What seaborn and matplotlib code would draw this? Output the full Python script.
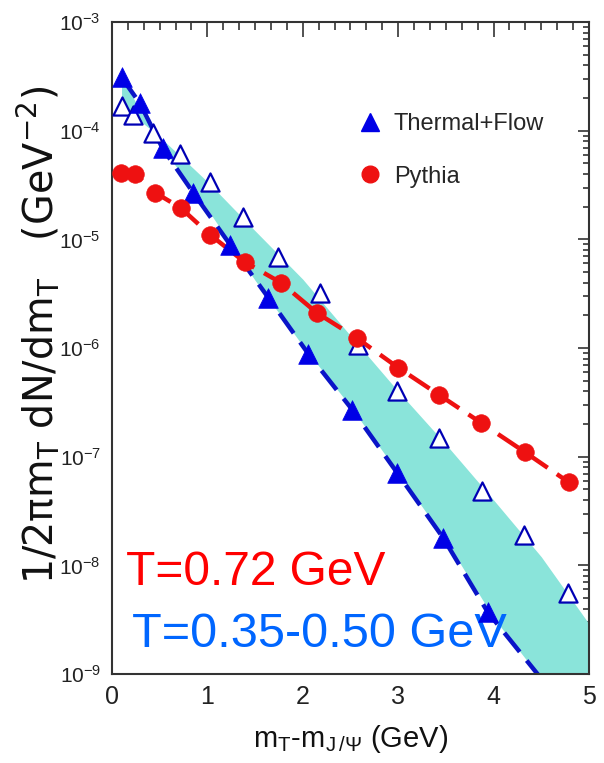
import numpy as np
import matplotlib
matplotlib.use("Agg")
import matplotlib.pyplot as plt
import seaborn as sns
from matplotlib import font_manager
from matplotlib.ticker import FixedLocator, LogLocator, FuncFormatter, AutoMinorLocator, NullFormatter
from matplotlib.lines import Line2D

# ---------------- data ----------------
thermal_x = [0.10, 0.29, 0.53, 0.85, 1.24, 1.64, 2.06, 2.52, 2.99, 3.47, 3.94]
thermal_y = [3.1e-4, 1.8e-4, 6.9e-5, 2.7e-5, 8.9e-6, 2.9e-6, 8.8e-7, 2.7e-7, 7.1e-8, 1.8e-8, 3.7e-9]

thermal_line_x = [0.10, 0.29, 0.53, 0.85, 1.24, 1.64, 2.06, 2.52, 2.99, 3.47, 3.94, 4.55]
thermal_line_y = [3.1e-4, 1.8e-4, 6.9e-5, 2.7e-5, 8.9e-6, 2.9e-6, 8.8e-7, 2.7e-7, 7.1e-8, 1.8e-8, 3.7e-9, 8.0e-10]

thermal_open_x = [0.10, 0.22, 0.43, 0.71, 1.03, 1.37, 1.74, 2.18, 2.58, 2.99, 3.43, 3.88, 4.32, 4.78]
thermal_open_y = [1.7e-4, 1.4e-4, 9.5e-5, 6.1e-5, 3.4e-5, 1.6e-5, 6.9e-6, 3.2e-6, 1.07e-6, 4.0e-7,
                  1.5e-7, 4.8e-8, 1.9e-8, 5.6e-9]

pythia_x = [0.09, 0.24, 0.45, 0.72, 1.03, 1.39, 1.77, 2.15, 2.57, 3.00, 3.43, 3.87, 4.33, 4.79]
pythia_y = [4.1e-5, 4.0e-5, 2.7e-5, 1.95e-5, 1.1e-5, 6.2e-6, 4.0e-6, 2.1e-6, 1.23e-6, 6.6e-7,
            3.7e-7, 2.05e-7, 1.1e-7, 5.8e-8]

band_x = [0.10, 0.50, 1.00, 1.50, 2.00, 2.50, 3.00, 3.50, 4.00, 4.50, 5.00]
band_low = [3.1e-4, 7.5e-5, 1.9e-5, 4.2e-6, 1.05e-6, 2.9e-7, 7.1e-8, 1.7e-8, 3.3e-9, 9e-10, 5e-10]
band_high = [1.7e-4, 8.8e-5, 3.4e-5, 1.2e-5, 4.3e-6, 1.3e-6, 4.0e-7, 1.3e-7, 4.0e-8, 1.2e-8, 2.9e-9]

x_ticks = [0, 1, 2, 3, 4, 5]
x_tick_labels = ["0", "1", "2", "3", "4", "5"]
y_exponents = [-3, -4, -5, -6, -7, -8, -9]
legend_labels = ["Thermal+Flow", "Pythia"]
annot_red = "T=0.72 GeV"
annot_blue = "T=0.35-0.50 GeV"

# ---------------- style ----------------
sns.set_theme(style="white")
names = {f.name for f in font_manager.fontManager.ttflist}
NARROW = "Liberation Sans Narrow" if "Liberation Sans Narrow" in names else "Liberation Sans"
plt.rcParams["font.family"] = [NARROW, "DejaVu Sans"]

fig = plt.figure(figsize=(6.04, 7.63), dpi=100)
ax = fig.add_axes([0.1854, 0.1166, 0.7897, 0.8545])

BLUE = "#0000e6"
BLUE_LINE = "#0a14c8"
RED = "#ee1111"
CYAN = "#8ae4da"

ax.fill_between(band_x, band_low, band_high, color=CYAN, lw=0, zorder=1)

sns.lineplot(x=thermal_line_x, y=thermal_line_y, ax=ax, color=BLUE_LINE, lw=3.2,
             linestyle=(0, (5.5, 2.5)), sort=False, zorder=2, estimator=None)
sns.lineplot(x=pythia_x, y=pythia_y, ax=ax, color=RED, lw=3.2,
             linestyle=(0, (5.5, 2.5)), sort=False, zorder=2, estimator=None)

sns.scatterplot(x=thermal_open_x, y=thermal_open_y, ax=ax, marker="^", s=170,
                facecolor="white", edgecolor="#0000b4", linewidth=1.6, zorder=3)
sns.scatterplot(x=thermal_x, y=thermal_y, ax=ax, marker="^", s=200,
                color=BLUE, edgecolor=BLUE, linewidth=0.5, zorder=4)
sns.scatterplot(x=pythia_x, y=pythia_y, ax=ax, marker="o", s=160,
                color=RED, edgecolor=RED, linewidth=0.5, zorder=4)

ax.set_yscale("log")
ax.set_xlim(0, 5)
ax.set_ylim(1e-9, 1e-3)

ax.xaxis.set_major_locator(FixedLocator(x_ticks))
ax.set_xticklabels(x_tick_labels)
ax.xaxis.set_minor_locator(AutoMinorLocator(6))
ax.yaxis.set_major_locator(FixedLocator([10.0 ** e for e in y_exponents]))
ax.yaxis.set_major_formatter(FuncFormatter(
    lambda v, p: r"$\mathregular{10^{%d}}$" % int(round(np.log10(v)))))
ax.yaxis.set_minor_locator(LogLocator(base=10, subs=np.arange(2, 10), numticks=100))
ax.yaxis.set_minor_formatter(NullFormatter())

ax.tick_params(which="both", direction="in", top=True, right=True, color="#333333",
               width=1.2)
ax.tick_params(axis="x", which="major", length=11, pad=8, labelsize=18)
ax.tick_params(axis="x", which="minor", length=5.5)
ax.tick_params(axis="y", which="major", length=8, pad=8, labelsize=15)
ax.tick_params(axis="y", which="minor", length=4)
for lab in ax.get_xticklabels() + ax.get_yticklabels():
    lab.set_fontfamily([NARROW, "DejaVu Sans"])
    lab.set_color("#222222")
for s in ax.spines.values():
    s.set_color("#333333")
    s.set_linewidth(1.5)

ax.set_xlabel(r"m$_\mathregular{T}$-m$_\mathregular{J\,/\Psi}$ (GeV)", fontsize=21,
              family=[NARROW, "DejaVu Sans"], color="#111111", labelpad=10)
ax.set_ylabel("1/2πm$_\\mathregular{T}$ dN/dm$_\\mathregular{T}$   (GeV$^\\mathregular{-2}$)",
              fontsize=28.5, family=["DejaVu Sans"], color="#111111")
ax.yaxis.set_label_coords(-0.104, 0.52)

handles = [Line2D([], [], marker="^", color=BLUE, ls="none", markersize=13),
           Line2D([], [], marker="o", color=RED, ls="none", markersize=12)]
ax.legend(handles, legend_labels, loc="upper left", bbox_to_anchor=(0.472, 0.893),
          frameon=False, handlelength=1.0, handletextpad=0.5, labelspacing=1.3,
          prop={"family": [NARROW, "DejaVu Sans"], "size": 17})

ax.text(0.03, 0.155, annot_red, transform=ax.transAxes, color="#ff0000",
        fontsize=34.5, family=["Liberation Sans", "DejaVu Sans"], va="center", ha="left")
ax.text(0.043, 0.06, annot_blue, transform=ax.transAxes, color="#0066ff",
        fontsize=35, family=["Liberation Sans", "DejaVu Sans"], va="center", ha="left")

fig.savefig("out.png", dpi=100, facecolor="white")
